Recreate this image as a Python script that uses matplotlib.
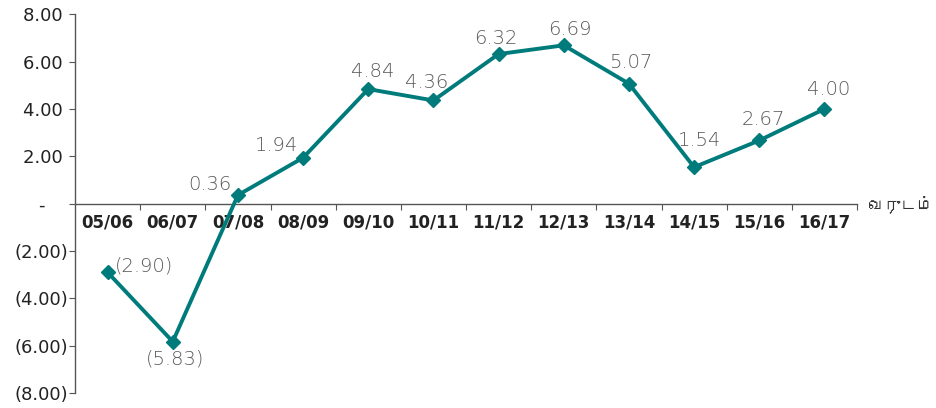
import matplotlib
matplotlib.use("Agg")
import matplotlib.pyplot as plt
from matplotlib import font_manager
from matplotlib.ft2font import FT2Font

years = ["05/06", "06/07", "07/08", "08/09", "09/10", "10/11",
         "11/12", "12/13", "13/14", "14/15", "15/16", "16/17"]
growth = [-2.90, -5.83, 0.36, 1.94, 4.84, 4.36, 6.32, 6.69, 5.07, 1.54, 2.67, 4.00]
label_text = ["(2.90)", "(5.83)", "0.36", "1.94", "4.84", "4.36",
              "6.32", "6.69", "5.07", "1.54", "2.67", "4.00"]
y_ticks = [8, 6, 4, 2, 0, -2, -4, -6, -8]
y_tick_labels = ["8.00 ", "6.00 ", "4.00 ", "2.00 ", "-    ",
                 "(2.00)", "(4.00)", "(6.00)", "(8.00)"]
axis_name = "வருடம்"

# label offsets in pixels (dx, dy) relative to each point
offsets = [(36, 6), (2, -17), (-28, 11), (-27, 12), (4, 18), (-7, 18),
           (-3, 16), (6, 16), (2, 21), (5, 27), (4, 21), (4, 19)]

# find a font that can draw Tamil
tamil_font = None
for fe in font_manager.fontManager.ttflist:
    try:
        if 0x0BB5 in FT2Font(fe.fname).get_charmap():
            tamil_font = fe.name
            break
    except Exception:
        pass

plt.rcParams['font.family'] = ['DejaVu Sans']

teal = "#007b7b"
grey = "#555555"

top, bottom, left, right = 14.3, 393, 75, 857
fig = plt.figure(figsize=(9.36, 4.08), dpi=100)
ax = fig.add_axes([left / 936, 1 - bottom / 408, (right - left) / 936, (bottom - top) / 408])

x = list(range(len(years)))
ax.plot(x, growth, color=teal, lw=2.8, marker="D", ms=7.5, zorder=3)

for i, (v, t) in enumerate(zip(growth, label_text)):
    dx, dy = offsets[i]
    ax.annotate(t, (i, v), xytext=(dx * 0.72, dy * 0.72), textcoords="offset points",
                ha="center", va="center", fontsize=14, color="#5a5a5a",
                fontweight="light")

ax.set_xlim(-0.5, len(years) - 0.5)
ax.set_ylim(-8, 8)

ax.spines['top'].set_visible(False)
ax.spines['right'].set_visible(False)
ax.spines['bottom'].set_position(('data', 0))
for s in ('left', 'bottom'):
    ax.spines[s].set_color(grey)
    ax.spines[s].set_linewidth(1.0)

ax.set_yticks(y_ticks)
ax.set_yticklabels(y_tick_labels)
ax.tick_params(axis='y', direction='out', length=4, color=grey, labelsize=13,
               labelcolor="#222222", pad=1)

ax.set_xticks([i + 0.5 for i in range(len(years))])
ax.set_xticklabels([])
ax.tick_params(axis='x', which='major', direction='out', length=4, color=grey)
ax.set_xticks(x, minor=True)
ax.set_xticklabels(years, minor=True, fontweight='bold', fontsize=12, color="#222222")
ax.tick_params(axis='x', which='minor', length=0, pad=7)

fam = [tamil_font, 'DejaVu Sans'] if tamil_font else ['DejaVu Sans']
ax.annotate(axis_name, (1.0, 0), xycoords=('axes fraction', 'data'),
            xytext=(8, 0), textcoords='offset points', ha='left', va='center',
            fontsize=12, color="#333333", family=fam, annotation_clip=False)

fig.savefig("out.png", dpi=100)
